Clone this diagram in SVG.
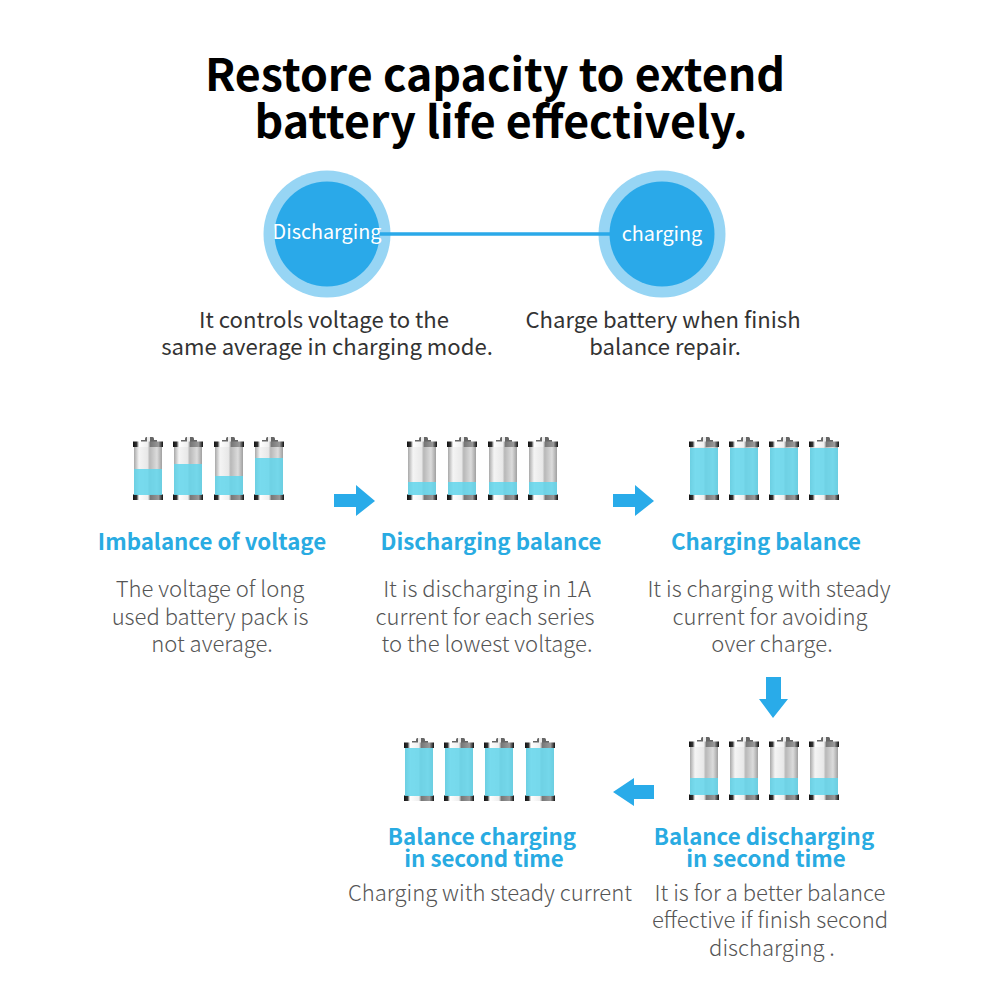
<svg xmlns="http://www.w3.org/2000/svg" xmlns:xlink="http://www.w3.org/1999/xlink" width="1001" height="1001" viewBox="0 0 1001 1001">
<style>
text{font-family:"Noto Sans CJK SC","Noto Sans",sans-serif;text-anchor:middle}
.title{font-size:44.700px;font-weight:700;fill:#000}
.lab{font-size:19.800px;fill:#fff}
.cap{font-size:22.100px;fill:#333}
.head{font-size:22.300px;font-weight:700;fill:#29abe2}
.desc{font-size:22.050px;font-weight:300;fill:#555}
.outer{fill:#97d5f4}
.inner{fill:#2aa9e9}
.lvl{fill:#62d6ec;opacity:.85}
.arr{fill:#29abe9}
</style>
<defs>
<linearGradient id="glass" x1="0" x2="1" y1="0" y2="0">
<stop offset="0" stop-color="#a8a8a8"/><stop offset=".18" stop-color="#f4f4f4"/><stop offset=".48" stop-color="#e8e8e8"/><stop offset=".56" stop-color="#b8b8b8"/><stop offset=".82" stop-color="#dcdcdc"/><stop offset="1" stop-color="#a0a0a0"/>
</linearGradient>
<linearGradient id="band" x1="0" x2="1" y1="0" y2="0">
<stop offset="0" stop-color="#111"/><stop offset=".12" stop-color="#333"/><stop offset=".2" stop-color="#fff"/><stop offset=".5" stop-color="#eee"/><stop offset=".58" stop-color="#777"/><stop offset=".85" stop-color="#999"/><stop offset="1" stop-color="#111"/>
</linearGradient>
<g id="bat">
<rect x="1" y="9" width="28" height="50" fill="url(#glass)"/>
<rect x="8" y="3" width="16" height="2" fill="#666"/>
<rect x="12" y="0" width="9" height="5" rx="1.500" fill="#666"/>
<rect x="14" y="0" width="3" height="5" fill="#eee"/>
<rect x="0" y="4.500" width="30" height="5.500" fill="url(#band)"/>
<rect x="0" y="57.500" width="30" height="5.500" fill="url(#band)"/>
</g>
</defs>
<rect width="1001" height="1001" fill="#fff"/>
<text class="title" x="495" y="91">Restore capacity to extend</text>
<text class="title" x="501" y="138">battery life effectively.</text>
<g id="node-discharging">
<circle class="outer" cx="327" cy="234" r="63.500"/><circle class="inner" cx="327" cy="234" r="52.500"/>
<text class="lab" x="327" y="239">Discharging</text>
<text class="cap" x="324" y="328">It controls voltage to the</text>
<text class="cap" x="327" y="355">same average in charging mode.</text>
</g>
<g id="node-charging">
<circle class="outer" cx="662" cy="234" r="63.500"/><circle class="inner" cx="662" cy="234" r="52.500"/>
<text class="lab" x="662" y="241">charging</text>
<text class="cap" x="663" y="328">Charge battery when finish</text>
<text class="cap" x="665" y="355">balance repair.</text>
</g>
<g id="node-imbalance">
<use href="#bat" x="133" y="437"/><rect class="lvl" x="134" y="469" width="28" height="26"/>
<use href="#bat" x="173" y="437"/><rect class="lvl" x="174" y="464" width="28" height="31"/>
<use href="#bat" x="214" y="437"/><rect class="lvl" x="215" y="476" width="28" height="19"/>
<use href="#bat" x="254" y="437"/><rect class="lvl" x="255" y="458" width="28" height="37"/>
<text class="head" x="212" y="550">Imbalance of voltage</text>
<text class="desc" x="210" y="597">The voltage of long</text>
<text class="desc" x="210" y="625">used battery pack is</text>
<text class="desc" x="212" y="652">not average.</text>
</g>
<g id="node-discharging-balance">
<use href="#bat" x="407" y="437"/><rect class="lvl" x="408" y="482" width="28" height="13"/>
<use href="#bat" x="447" y="437"/><rect class="lvl" x="448" y="482" width="28" height="13"/>
<use href="#bat" x="488" y="437"/><rect class="lvl" x="489" y="482" width="28" height="13"/>
<use href="#bat" x="528" y="437"/><rect class="lvl" x="529" y="482" width="28" height="13"/>
<text class="head" x="491" y="550">Discharging balance</text>
<text class="desc" x="487" y="597">It is discharging in 1A</text>
<text class="desc" x="485" y="625">current for each series</text>
<text class="desc" x="487" y="652">to the lowest voltage.</text>
</g>
<g id="node-charging-balance">
<use href="#bat" x="689" y="437"/><rect class="lvl" x="690" y="448" width="28" height="47"/>
<use href="#bat" x="729" y="437"/><rect class="lvl" x="730" y="448" width="28" height="47"/>
<use href="#bat" x="769" y="437"/><rect class="lvl" x="770" y="448" width="28" height="47"/>
<use href="#bat" x="809" y="437"/><rect class="lvl" x="810" y="448" width="28" height="47"/>
<text class="head" x="766" y="550">Charging balance</text>
<text class="desc" x="769" y="597">It is charging with steady</text>
<text class="desc" x="770" y="625">current for avoiding</text>
<text class="desc" x="772" y="652">over charge.</text>
</g>
<g id="node-balance-discharging">
<use href="#bat" x="689" y="737"/><rect class="lvl" x="690" y="778" width="28" height="17"/>
<use href="#bat" x="729" y="737"/><rect class="lvl" x="730" y="778" width="28" height="17"/>
<use href="#bat" x="769" y="737"/><rect class="lvl" x="770" y="778" width="28" height="17"/>
<use href="#bat" x="809" y="737"/><rect class="lvl" x="810" y="778" width="28" height="17"/>
<text class="head" x="764" y="845">Balance discharging</text>
<text class="head" x="766" y="867">in second time</text>
<text class="desc" x="770" y="901">It is for a better balance</text>
<text class="desc" x="770" y="928">effective if finish second</text>
<text class="desc" x="772" y="956">discharging .</text>
</g>
<g id="node-balance-charging">
<use href="#bat" x="404" y="738"/><rect class="lvl" x="405" y="748" width="28" height="48"/>
<use href="#bat" x="444" y="738"/><rect class="lvl" x="445" y="748" width="28" height="48"/>
<use href="#bat" x="484" y="738"/><rect class="lvl" x="485" y="748" width="28" height="48"/>
<use href="#bat" x="525" y="738"/><rect class="lvl" x="526" y="748" width="28" height="48"/>
<text class="head" x="482" y="845">Balance charging</text>
<text class="head" x="484" y="867">in second time</text>
<text class="desc" x="490" y="901">Charging with steady current</text>
</g>
<g id="connectors">
<line x1="380" y1="234" x2="610" y2="234" stroke="#2aa9e9" stroke-width="3.500"/>
<path class="arr" d="M334 494H356V485L375 501L356 516V507H334Z"/>
<path class="arr" d="M613 494H635V485L654 501L635 516V507H613Z"/>
<path class="arr" d="M766 677H781V699H788L773 718L759 699H766Z"/>
<path class="arr" d="M654 785V799H634V806L613 792L634 778V785Z"/>
</g>
</svg>
